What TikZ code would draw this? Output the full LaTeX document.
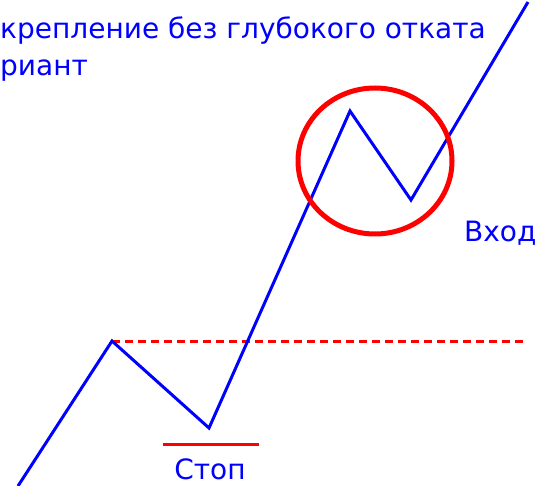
\documentclass[tikz,border=0pt]{standalone}
\usepackage{fontspec}
\setmainfont{DejaVu Sans}
\usetikzlibrary{positioning}
\definecolor{trend}{HTML}{0000FF}
\definecolor{signal}{HTML}{FF0000}

\begin{document}
\begin{tikzpicture}[x=1pt, y=-1pt, every node/.style={font=\fontsize{28}{34}\selectfont, text=trend, inner sep=0pt}]
  \useasboundingbox (0,0) rectangle (538,486);
  % price path
  \foreach \n/\x/\y in {start/18/486, high1/112/341, low1/209/428, high2/350/111, low2/411/200, finish/528/2}{
    \coordinate (\n) at (\x,\y);
  }
  \coordinate (levelend) at (526,341);
  \coordinate (stopleft) at (163,444);
  \coordinate (stopright) at (259,444);
  \draw[signal, line width=3pt, dash pattern=on 8pt off 5pt] (high1) -- (levelend);
  \draw[trend, line width=3pt] (start) -- (high1) -- (low1) -- (high2) -- (low2) -- (finish);
  \draw[signal, line width=5pt] (375,161) ellipse (77 and 73);
  \draw[signal, line width=3pt] (stopleft) -- (stopright);
  % labels
  \node[anchor=base west] (title1) at (0,39) {крепление без глубокого отката};
  \node[anchor=base west] (title2) at (0,76) {риант};
  \node[anchor=base west] (entry) at (464,242) {Вход};
  \node[anchor=base] (stoplabel) at (210,479) {Стоп};
\end{tikzpicture}
\end{document}
